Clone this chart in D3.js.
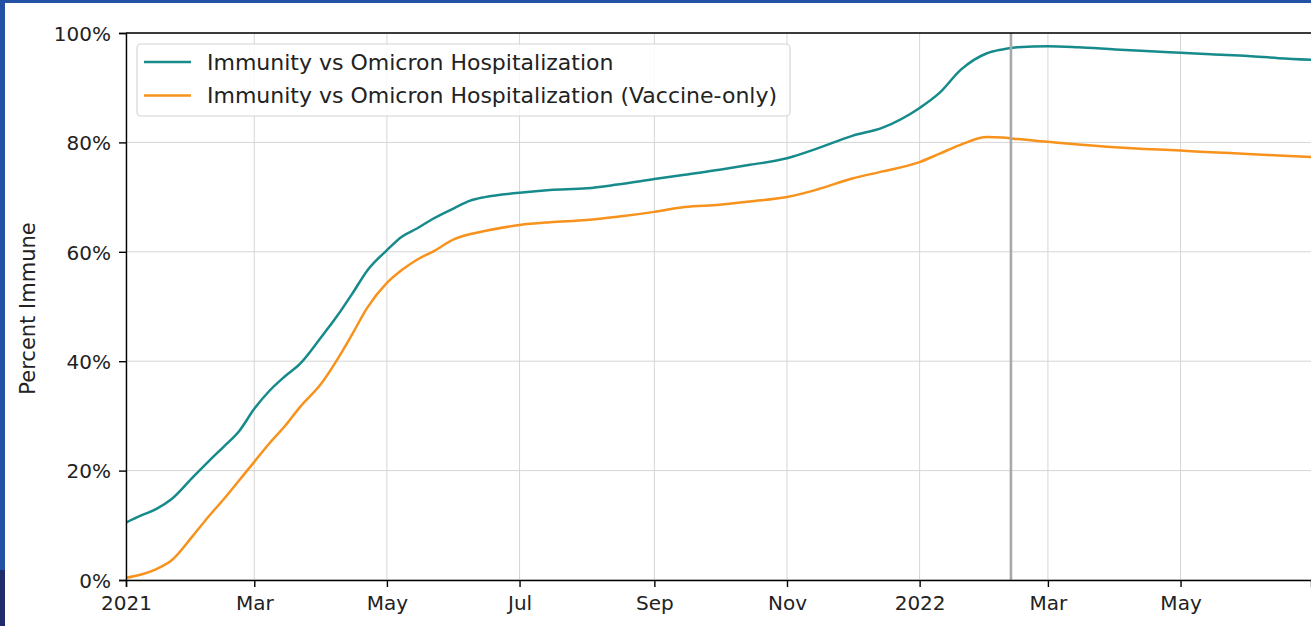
<!DOCTYPE html>
<html>
<head>
<meta charset="utf-8">
<script src="https://cdn.jsdelivr.net/npm/d3@7"></script>
<style>
    body { margin: 0; background: #fff; }
    svg { display: block; font-family: "DejaVu Sans", sans-serif; }
</style>
</head>
<body>
<div id="chart"></div>
<script>
// values, in percent
var dates = ["2021-01-01", "2021-01-08", "2021-01-15", "2021-01-22", "2021-02-01", "2021-02-08",
    "2021-02-15", "2021-02-22", "2021-03-01", "2021-03-08", "2021-03-15", "2021-03-22",
    "2021-04-01", "2021-04-08", "2021-04-15", "2021-04-22", "2021-05-01", "2021-05-08",
    "2021-05-15", "2021-05-22", "2021-06-01", "2021-06-08", "2021-06-15",
    "2021-07-01", "2021-07-15", "2021-08-01", "2021-08-15", "2021-09-01", "2021-09-15",
    "2021-10-01", "2021-10-15", "2021-11-01", "2021-11-15", "2021-12-01", "2021-12-15",
    "2022-01-01", "2022-01-10", "2022-01-20", "2022-02-01", "2022-02-08", "2022-02-15",
    "2022-03-01", "2022-03-15", "2022-04-01", "2022-04-15", "2022-05-01", "2022-05-15",
    "2022-06-01", "2022-06-15", "2022-07-01"];
var immunity = [10.5, 11.8, 13.0, 14.8, 18.9, 21.7,
    24.4, 27.2, 31.3, 34.6, 37.2, 39.5,
    44.5, 48.2, 52.3, 56.6, 60.3, 62.8,
    64.3, 66.0, 68.0, 69.3, 70.0,
    70.8, 71.3, 71.6, 72.3, 73.3, 74.1,
    75.0, 75.9, 77.1, 78.9, 81.2, 82.7,
    86.3, 89.0, 93.3, 96.3, 97.0, 97.4,
    97.6, 97.4, 97.0, 96.7, 96.4, 96.1,
    95.8, 95.4, 95.1];
var vaccineOnly = [0.4, 1.0, 2.0, 3.6, 8.2, 11.6,
    14.8, 18.2, 21.6, 25.0, 28.1, 31.6,
    36.0, 40.2, 44.9, 49.8, 54.3, 56.7,
    58.6, 60.0, 62.3, 63.2, 63.8,
    64.9, 65.4, 65.8, 66.4, 67.3, 68.2,
    68.6, 69.2, 70.0, 71.4, 73.4, 74.7,
    76.4, 77.9, 79.6, 81.0, 80.9, 80.6,
    80.1, 79.6, 79.1, 78.8, 78.5, 78.2,
    77.9, 77.6, 77.3];
var seriesNames = ["Immunity vs Omicron Hospitalization", "Immunity vs Omicron Hospitalization (Vaccine-only)"];
var seriesColors = ["#178b8b", "#f7921c"];
var yTicks = [0, 20, 40, 60, 80, 100];
var markerDate = "2022-02-12";

var width = 1311, height = 626,
    plotLeft = 126, plotTop = 33, plotBottom = 580, plotRight = 1311;

var parse = d3.timeParse("%Y-%m-%d");

var svg = d3.select("#chart").append("svg")
    .attr("width", width)
    .attr("height", height);

// page frame (blue edges)
svg.append("rect").attr("x", 0).attr("y", 0).attr("width", width).attr("height", 3).attr("fill", "#2351a4");
svg.append("rect").attr("x", 0).attr("y", 0).attr("width", 5).attr("height", 570).attr("fill", "#2351a4");
svg.append("rect").attr("x", 0).attr("y", 570).attr("width", 5).attr("height", 56).attr("fill", "#1f2b6b");

var x = d3.scaleTime()
    .domain([parse("2021-01-01"), parse("2022-06-30")])
    .range([plotLeft, plotRight]);

var y = d3.scaleLinear()
    .domain([0, 100])
    .range([plotBottom, plotTop]);

var xTicks = x.ticks(d3.timeMonth.every(2));
var fmt = function (d) {
    return d.getMonth() === 0 ? d3.timeFormat("%Y")(d) : d3.timeFormat("%b")(d);
};

svg.append("defs").append("clipPath").attr("id", "plotclip")
    .append("rect")
    .attr("x", plotLeft).attr("y", plotTop - 2)
    .attr("width", plotRight - plotLeft).attr("height", plotBottom - plotTop + 4);

// grid
var grid = svg.append("g").attr("stroke", "#d6d6d6").attr("stroke-width", 1);
grid.selectAll(".vgrid")
    .data(xTicks)
    .enter().append("line")
    .attr("x1", function (d) { return x(d); })
    .attr("x2", function (d) { return x(d); })
    .attr("y1", plotTop)
    .attr("y2", plotBottom);
grid.selectAll(".hgrid")
    .data(yTicks)
    .enter().append("line")
    .attr("x1", plotLeft)
    .attr("x2", plotRight)
    .attr("y1", function (d) { return y(d); })
    .attr("y2", function (d) { return y(d); });

// lines
var series = [immunity, vaccineOnly];
var line = d3.line()
    .curve(d3.curveMonotoneX)
    .x(function (d) { return x(d.date); })
    .y(function (d) { return y(d.value); });

svg.append("g").attr("clip-path", "url(#plotclip)")
    .selectAll("path")
    .data(series)
    .enter().append("path")
    .attr("d", function (vals) {
        return line(vals.map(function (v, i) {
            return {date: parse(dates[i]), value: v};
        }));
    })
    .attr("fill", "none")
    .attr("stroke", function (d, i) { return seriesColors[i]; })
    .attr("stroke-width", 2.5)
    .attr("stroke-linejoin", "round");

// marker line
svg.append("line")
    .attr("x1", x(parse(markerDate)))
    .attr("x2", x(parse(markerDate)))
    .attr("y1", plotTop)
    .attr("y2", plotBottom)
    .attr("stroke", "#a8a8a8")
    .attr("stroke-width", 2.6);

// axes
var xAxis = svg.append("g")
    .attr("transform", "translate(0," + plotBottom + ")")
    .call(d3.axisBottom(x).tickValues(xTicks).tickFormat(fmt).tickSize(7).tickPadding(9));
var yAxis = svg.append("g")
    .attr("transform", "translate(" + plotLeft + ",0)")
    .call(d3.axisLeft(y).tickValues(yTicks).tickFormat(function (d) { return d + "%"; }).tickSize(7).tickPadding(8));

[xAxis, yAxis].forEach(function (a) {
    a.select(".domain").attr("stroke", "#000").attr("stroke-width", 1.4);
    a.selectAll(".tick line").attr("stroke", "#000").attr("stroke-width", 1.4);
    a.selectAll(".tick text")
        .attr("fill", "#222")
        .style("font-family", "DejaVu Sans")
        .style("font-size", "20px");
});
yAxis.selectAll(".tick text").attr("dy", "0.36em");

// top spine
svg.append("line")
    .attr("x1", plotLeft).attr("x2", plotRight)
    .attr("y1", plotTop).attr("y2", plotTop)
    .attr("stroke", "#000").attr("stroke-width", 1.4);

// y label
svg.append("text")
    .attr("transform", "translate(28," + ((plotTop + plotBottom) / 2 + 2) + ") rotate(-90)")
    .attr("text-anchor", "middle")
    .attr("dominant-baseline", "central")
    .attr("fill", "#222")
    .style("font-size", "21px")
    .text("Percent Immune");

// legend
var legend = svg.append("g").attr("class", "legend");
legend.append("rect")
    .attr("x", 137).attr("y", 44)
    .attr("width", 653).attr("height", 72)
    .attr("rx", 4).attr("ry", 4)
    .attr("fill", "#fff").attr("fill-opacity", 0.85)
    .attr("stroke", "#d4d4d4").attr("stroke-width", 1.2);

var items = legend.selectAll(".item")
    .data(seriesNames)
    .enter().append("g")
    .attr("class", "item")
    .attr("transform", function (d, i) { return "translate(0," + (62 + i * 33.5) + ")"; });
items.append("line")
    .attr("x1", 144).attr("x2", 191)
    .attr("stroke", function (d, i) { return seriesColors[i]; })
    .attr("stroke-width", 2.5);
items.append("text")
    .attr("x", 207)
    .attr("dy", "0.36em")
    .attr("fill", "#222")
    .style("font-size", "22px")
    .text(function (d) { return d; });
</script>
</body>
</html>
